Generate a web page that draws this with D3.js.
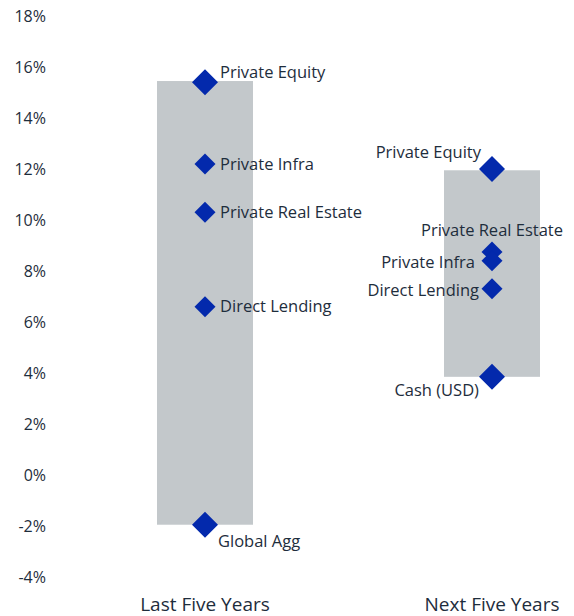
<!DOCTYPE html>
<html>
<head>
<meta charset="utf-8">
<script src="https://cdn.jsdelivr.net/npm/d3@7"></script>
<style>
  body { margin: 0; background: #fff; }
  svg text { font-family: "Open Sans", sans-serif; fill: #1e2d3c; }
</style>
</head>
<body>
<div id="chart"></div>
<script>
// Data
const periods = ["Last Five Years", "Next Five Years"];
const rangeLow = [-1.95, 3.85];
const rangeHigh = [15.45, 11.95];

const lastAssets = ["Private Equity", "Private Infra", "Private Real Estate", "Direct Lending", "Global Agg"];
const lastValues = [15.4, 12.2, 10.3, 6.6, -1.95];

const nextAssets = ["Private Equity", "Private Real Estate", "Private Infra", "Direct Lending", "Cash (USD)"];
const nextValues = [12.0, 8.75, 8.4, 7.3, 3.85];

const yTicks = [-4, -2, 0, 2, 4, 6, 8, 10, 12, 14, 16, 18];

const width = 574, height = 616;

const svg = d3.select("#chart").append("svg")
  .attr("width", width)
  .attr("height", height);

const x = d3.scalePoint()
  .domain(periods)
  .range([205, 492]);

const y = d3.scaleLinear()
  .domain([-4, 18])
  .range([577, 16]);

const barWidth = 96;

// Y axis, labels only
const yAxis = svg.append("g")
  .attr("transform", "translate(46,0)")
  .call(d3.axisLeft(y).tickValues(yTicks).tickSize(0).tickPadding(0).tickFormat(d => d + "%"));
yAxis.select(".domain").remove();
yAxis.selectAll("text")
  .style("font-size", "16px")
  .style("font-family", "Open Sans, sans-serif")
  .attr("fill", "#1e2d3c");

// Range bars (drawn as two pieces split at 0 like the source)
periods.forEach((p, i) => {
  const lo = rangeLow[i], hi = rangeHigh[i];
  const pieces = lo < 0 ? [[lo, 0], [0, hi]] : [[lo, hi]];
  pieces.forEach(([a, b]) => {
    svg.append("rect")
      .attr("x", x(p) - barWidth / 2)
      .attr("width", barWidth)
      .attr("y", y(b))
      .attr("height", y(a) - y(b))
      .attr("fill", "#c3c8cb");
  });
});

// Label placement per period: [dx, dy, anchor] by rank of point
const series = [
  { period: periods[0], names: lastAssets, values: lastValues },
  { period: periods[1], names: nextAssets, values: nextValues }
];

const place = {
  "Last Five Years": [[15, -10, "start"], [15, 0, "start"], [15, 0, "start"], [15, 0, "start"], [13, 16, "start"]],
  "Next Five Years": [[-11, -17, "end"], [0, -22, "middle"], [-17, 1, "end"], [-13, 1, "end"], [-13, 13, "end"]]
};

const bigDiamond = d3.symbol().type(d3.symbolSquare).size(338);
const smallDiamond = d3.symbol().type(d3.symbolSquare).size(220);

series.forEach(s => {
  const vmax = d3.max(s.values), vmin = d3.min(s.values);
  const g = svg.append("g");
  g.selectAll("path")
    .data(s.values)
    .join("path")
    .attr("d", v => (v === vmax || v === vmin) ? bigDiamond() : smallDiamond())
    .attr("transform", v => `translate(${x(s.period)},${y(v)}) rotate(45)`)
    .attr("fill", "#0329ac");

  g.selectAll("text")
    .data(s.values)
    .join("text")
    .attr("x", (v, i) => x(s.period) + place[s.period][i][0])
    .attr("y", (v, i) => y(v) + place[s.period][i][1])
    .attr("dy", "0.35em")
    .attr("text-anchor", (v, i) => place[s.period][i][2])
    .style("font-size", "16.5px")
    .text((v, i) => s.names[i]);
});

// Category labels
svg.append("g")
  .selectAll("text")
  .data(periods)
  .join("text")
  .attr("x", d => x(d))
  .attr("y", 611)
  .attr("text-anchor", "middle")
  .style("font-size", "19px")
  .text(d => d);
</script>
</body>
</html>
